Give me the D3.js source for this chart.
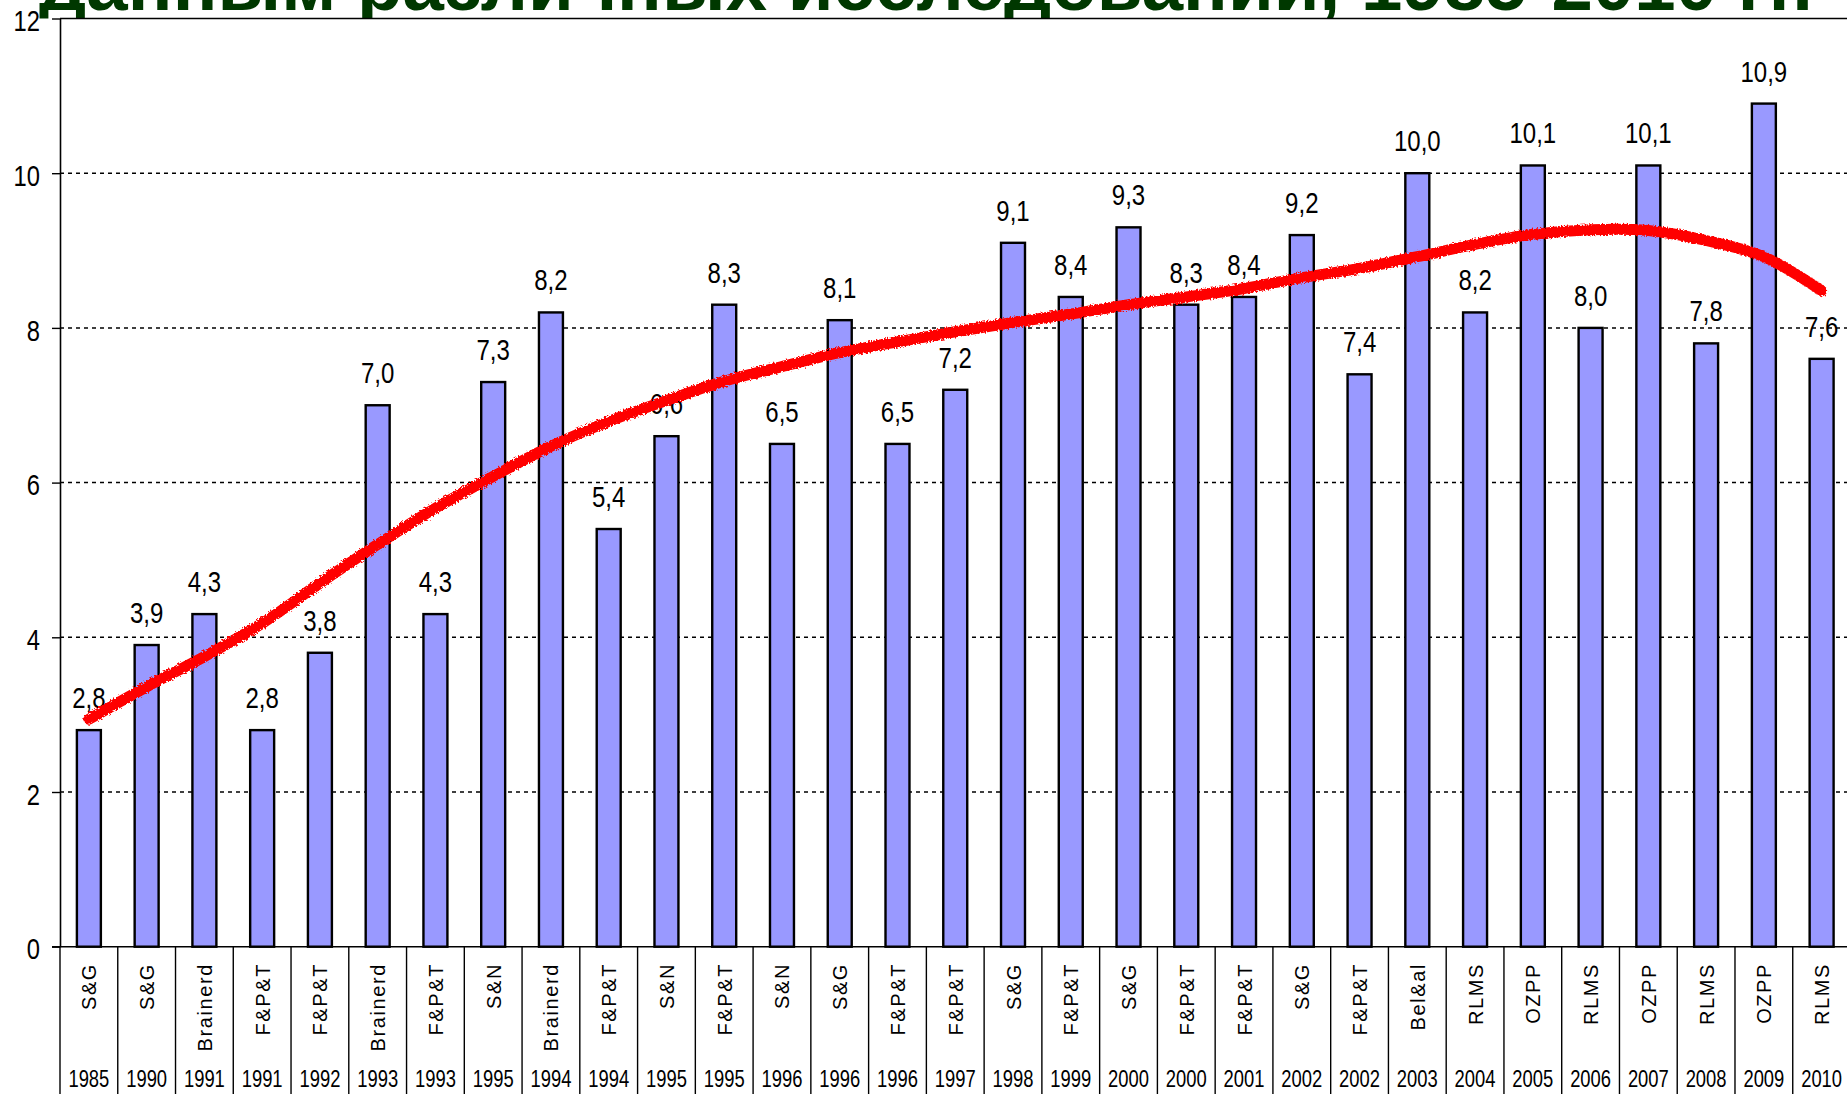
<!DOCTYPE html>
<html>
<head>
<meta charset="utf-8">
<script src="https://cdnjs.cloudflare.com/ajax/libs/d3/7.8.5/d3.min.js"></script>
<style>
  html, body { margin: 0; padding: 0; background: #fff; overflow: hidden; }
  svg { display: block; font-family: "Liberation Sans", Arial, sans-serif; }
</style>
</head>
<body>
<svg id="chart" width="1847" height="1094"></svg>
<script>
var titleText = "данным различных исследований, 1985-2010 гг.";

var studies = ["S&G", "S&G", "Brainerd", "F&P&T", "F&P&T", "Brainerd", "F&P&T", "S&N",
  "Brainerd", "F&P&T", "S&N", "F&P&T", "S&N", "S&G", "F&P&T", "F&P&T", "S&G", "F&P&T",
  "S&G", "F&P&T", "F&P&T", "S&G", "F&P&T", "Bel&al", "RLMS", "OZPP", "RLMS", "OZPP",
  "RLMS", "OZPP", "RLMS"];

var years = ["1985", "1990", "1991", "1991", "1992", "1993", "1993", "1995", "1994", "1994",
  "1995", "1995", "1996", "1996", "1996", "1997", "1998", "1999", "2000", "2000", "2001",
  "2002", "2002", "2003", "2004", "2005", "2006", "2007", "2008", "2009", "2010"];

var values = [2.8, 3.9, 4.3, 2.8, 3.8, 7.0, 4.3, 7.3, 8.2, 5.4, 6.6, 8.3, 6.5, 8.1, 6.5, 7.2,
  9.1, 8.4, 9.3, 8.3, 8.4, 9.2, 7.4, 10.0, 8.2, 10.1, 8.0, 10.1, 7.8, 10.9, 7.6];

// red trend line at each category
var trend = [2.94, 3.36, 3.75, 4.18, 4.70, 5.2, 5.67, 6.08, 6.47, 6.79, 7.06, 7.31, 7.5, 7.68,
  7.82, 7.95, 8.07, 8.18, 8.3, 8.4, 8.51, 8.65, 8.77, 8.92, 9.08, 9.21, 9.27, 9.26, 9.13,
  8.92, 8.48];

var yTicks = [0, 2, 4, 6, 8, 10, 12];
var gridTicks = [2, 4, 6, 8, 10];

var svg = d3.select("#chart"),
    width = +svg.attr("width"),
    height = +svg.attr("height");

var x = d3.scaleBand()
    .domain(d3.range(values.length))
    .range([60, 1850.5])
    .padding(0);

var y = d3.scaleLinear()
    .domain([0, 12])
    .range([946.7, 18.5]);

var bw = x.bandwidth();
var barW = bw * 0.415;
var fmt = function(v) { return d3.format(".1f")(v).replace(".", ","); };

// title, only its lower part shows above the chart
svg.append("clipPath").attr("id", "titleClip")
  .append("rect").attr("x", 0).attr("y", 0).attr("width", width).attr("height", y(12));

svg.append("text")
    .attr("clip-path", "url(#titleClip)")
    .attr("x", 39)
    .attr("y", 10)
    .attr("font-size", 74)
    .attr("font-weight", "bold")
    .attr("fill", "#003800")
    .attr("textLength", 1774)
    .attr("lengthAdjust", "spacingAndGlyphs")
    .text(titleText);

// dashed grid
svg.append("g")
  .selectAll("line")
  .data(gridTicks)
  .enter().append("line")
    .attr("x1", x.range()[0])
    .attr("x2", width)
    .attr("y1", function(d) { return y(d); })
    .attr("y2", function(d) { return y(d); })
    .attr("stroke", "#000")
    .attr("stroke-width", 1.5)
    .attr("stroke-dasharray", "4,4");

// top border of plot
svg.append("line")
    .attr("x1", x.range()[0]).attr("x2", width)
    .attr("y1", y(12)).attr("y2", y(12))
    .attr("stroke", "#000").attr("stroke-width", 1.6);

// bars
svg.append("g")
  .selectAll("rect")
  .data(values)
  .enter().append("rect")
    .attr("x", function(d, i) { return x(i) + (bw - barW) / 2; })
    .attr("y", function(d) { return y(d); })
    .attr("width", barW)
    .attr("height", function(d) { return y(0) - y(d); })
    .attr("fill", "#9999ff")
    .attr("stroke", "#000")
    .attr("stroke-width", 2.4);

// value labels
svg.append("g")
  .selectAll("text")
  .data(values)
  .enter().append("text")
    .attr("transform", function(d, i) {
      return "translate(" + (x(i) + bw / 2) + "," + (y(d) - 22) + ") scale(0.8,1)";
    })
    .attr("text-anchor", "middle")
    .attr("font-size", 30)
    .attr("fill", "#000")
    .text(function(d) { return fmt(d); });

// y axis
var yAxis = svg.append("g")
    .attr("transform", "translate(" + x.range()[0] + ",0)")
    .call(d3.axisLeft(y).tickValues(yTicks).tickSize(8).tickSizeOuter(0).tickFormat(d3.format("d")));

yAxis.select(".domain").attr("stroke", "#000").attr("stroke-width", 1.6);
yAxis.selectAll(".tick line").attr("stroke", "#000").attr("stroke-width", 1.4);
yAxis.selectAll(".tick text")
    .attr("x", -20 / 0.82)
    .attr("dy", "0.42em")
    .attr("transform", "scale(0.82,1)")
    .attr("font-size", 29)
    .attr("font-family", "\"Liberation Sans\", Arial, sans-serif")
    .attr("fill", "#000");

// category axis: baseline, separators, two rows of labels
svg.append("line")
    .attr("x1", 52).attr("x2", width)
    .attr("y1", y(0)).attr("y2", y(0))
    .attr("stroke", "#000").attr("stroke-width", 1.6);

var bounds = d3.range(values.length + 1).map(function(i) { return x.range()[0] + i * bw; });

svg.append("g")
  .selectAll("line")
  .data(bounds)
  .enter().append("line")
    .attr("x1", function(d) { return d; })
    .attr("x2", function(d) { return d; })
    .attr("y1", y(0))
    .attr("y2", height)
    .attr("stroke", "#000")
    .attr("stroke-width", 1.4);

svg.append("g")
  .selectAll("text")
  .data(studies)
  .enter().append("text")
    .attr("transform", function(d, i) {
      return "translate(" + (x(i) + bw / 2 + 7.5) + "," + 963 + ") rotate(-90)";
    })
    .attr("text-anchor", "end")
    .attr("font-size", 20)
    .attr("letter-spacing", 1.6)
    .attr("fill", "#000")
    .text(function(d) { return d; });

svg.append("g")
  .selectAll("text")
  .data(years)
  .enter().append("text")
    .attr("transform", function(d, i) {
      return "translate(" + (x(i) + bw / 2) + "," + 1087 + ") scale(0.8,1)";
    })
    .attr("text-anchor", "middle")
    .attr("font-size", 23)
    .attr("fill", "#000")
    .text(function(d) { return d; });

// rough red trend line
var defs = svg.append("defs");
var rough = defs.append("filter").attr("id", "rough")
    .attr("x", "-5%").attr("y", "-5%").attr("width", "110%").attr("height", "110%");
rough.append("feTurbulence")
    .attr("type", "fractalNoise").attr("baseFrequency", 0.6).attr("numOctaves", 1).attr("result", "noise");
rough.append("feDisplacementMap")
    .attr("in", "SourceGraphic").attr("in2", "noise").attr("scale", 5);

var line = d3.line()
    .x(function(d, i) { return x(i) + bw / 2; })
    .y(function(d) { return y(d); })
    .curve(d3.curveCatmullRom.alpha(0.5));

svg.append("path")
    .datum(trend)
    .attr("d", line)
    .attr("fill", "none")
    .attr("stroke", "#ff0000")
    .attr("stroke-width", 11)
    .attr("stroke-linecap", "round")
    .attr("filter", "url(#rough)");
</script>
</body>
</html>
